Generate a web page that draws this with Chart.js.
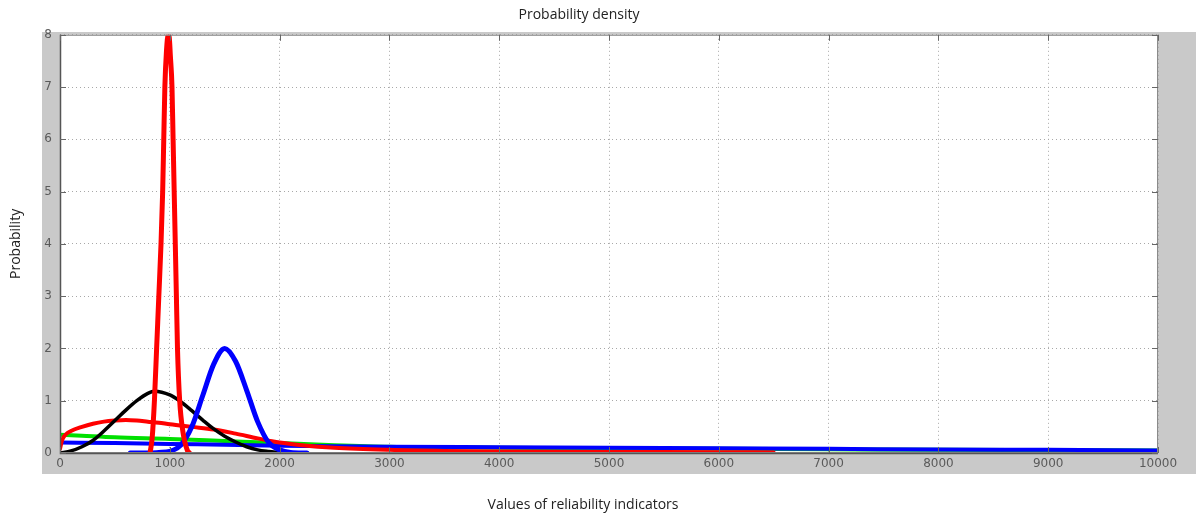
<!DOCTYPE html>
<html>
<head>
<meta charset="utf-8">
<script src="https://cdn.jsdelivr.net/npm/chart.js@4.4.1/dist/chart.umd.min.js"></script>
<style>
  html, body { margin: 0; padding: 0; background: #ffffff; }
  #wrap { width: 1196px; height: 515px; position: relative; }
</style>
</head>
<body>
<div id="wrap"><canvas id="c" width="1196" height="515"></canvas></div>
<script>
// Axis ticks
const xTicks = [0, 1000, 2000, 3000, 4000, 5000, 6000, 7000, 8000, 9000, 10000];
const yTicks = [0, 1, 2, 3, 4, 5, 6, 7, 8];

// Narrow red density (tall peak near 1000)
const peakX = [820, 840, 860, 880, 900, 920, 935, 945, 955, 970, 985, 995, 1005, 1020, 1030, 1040, 1050, 1060, 1070, 1090, 1120, 1160, 1180];
const peakY = [0, 0.3, 1.0, 2.0, 3.0, 4.0, 5.0, 6.0, 7.0, 7.7, 8.0, 7.95, 7.6, 7.0, 6.0, 5.0, 4.0, 3.0, 2.0, 1.0, 0.4, 0.05, 0];

// Blue bell density (peak near 1500)
const bellX = [640, 800, 900, 1000, 1100, 1200, 1300, 1400, 1500, 1600, 1700, 1800, 1900, 2000, 2100, 2250];
const bellY = [0, 0, 0.01, 0.03, 0.15, 0.5, 1.1, 1.7, 2.0, 1.75, 1.2, 0.6, 0.2, 0.06, 0.01, 0];

// Black density
const blackX = [0, 100, 200, 300, 400, 500, 600, 700, 800, 860, 1000, 1100, 1200, 1300, 1400, 1500, 1600, 1700, 1800, 1900, 2000];
const blackY = [0, 0.04, 0.12, 0.24, 0.42, 0.62, 0.82, 1.0, 1.14, 1.18, 1.11, 0.98, 0.81, 0.63, 0.46, 0.32, 0.21, 0.12, 0.06, 0.03, 0.01];

// Broad red density
const wideX = [0, 20, 50, 100, 200, 300, 400, 500, 600, 700, 800, 900, 1000, 1200, 1400, 1600, 1800, 2000, 2200, 2500, 3000, 3500, 4000, 5000, 6000, 6500];
const wideY = [0.08, 0.25, 0.35, 0.42, 0.5, 0.56, 0.6, 0.62, 0.63, 0.62, 0.6, 0.58, 0.55, 0.5, 0.45, 0.37, 0.28, 0.2, 0.15, 0.1, 0.06, 0.04, 0.03, 0.02, 0.015, 0.01];

// Flat blue density
const flatX = [0, 500, 1000, 1500, 2000, 3000, 4000, 5000, 6000, 7000, 8000, 9000, 10000];
const flatY = [0.2, 0.19, 0.17, 0.16, 0.14, 0.12, 0.11, 0.1, 0.09, 0.08, 0.065, 0.06, 0.05];

// Green density
const greenX = [0, 200, 500, 1000, 1500, 2000, 2500, 3000, 4000, 5000, 6000, 7000, 8000, 9000, 10000];
const greenY = [0.35, 0.33, 0.3, 0.27, 0.23, 0.19, 0.15, 0.12, 0.1, 0.09, 0.08, 0.07, 0.06, 0.055, 0.05];

const zip = (xs, ys) => xs.map((x, i) => ({ x: x, y: ys[i] }));

function line(xs, ys, color, width) {
  return {
    data: zip(xs, ys),
    borderColor: color,
    backgroundColor: color,
    borderWidth: width,
    pointRadius: 0,
    fill: false,
    cubicInterpolationMode: 'monotone',
    borderCapStyle: 'round',
    borderJoinStyle: 'round'
  };
}

// Gray figure background, white axes area, box and inward ticks
const figurePlugin = {
  id: 'figure',
  beforeDraw(chart) {
    const ctx = chart.ctx;
    const a = chart.chartArea;
    ctx.save();
    ctx.fillStyle = '#ffffff';
    ctx.fillRect(0, 0, chart.width, chart.height);
    ctx.fillStyle = '#c9c9c9';
    ctx.fillRect(42, 32, chart.width - 42, 442);
    ctx.fillStyle = '#ffffff';
    ctx.fillRect(a.left, a.top, a.right - a.left, a.bottom - a.top);
    ctx.restore();
  },
  afterDatasetsDraw(chart) {
    const ctx = chart.ctx;
    const a = chart.chartArea;
    const xs = chart.scales.x, ys = chart.scales.y;
    ctx.save();
    ctx.strokeStyle = '#8a8a8a';
    ctx.lineWidth = 1;
    ctx.strokeRect(a.left + 0.5, a.top + 0.5, a.right - a.left - 1, a.bottom - a.top - 1);
    ctx.strokeStyle = '#555555';
    ctx.lineWidth = 1.5;
    ctx.beginPath();
    ctx.moveTo(a.left + 0.5, a.top);
    ctx.lineTo(a.left + 0.5, a.bottom + 0.5);
    ctx.lineTo(a.right, a.bottom + 0.5);
    ctx.stroke();
    ctx.lineWidth = 1;
    ctx.strokeStyle = '#666666';
    ctx.beginPath();
    yTicks.forEach(v => {
      const py = Math.round(ys.getPixelForValue(v)) + 0.5;
      ctx.moveTo(a.left, py); ctx.lineTo(a.left + 6, py);
      ctx.moveTo(a.right, py); ctx.lineTo(a.right - 6, py);
    });
    xTicks.forEach(v => {
      const px = Math.round(xs.getPixelForValue(v)) + 0.5;
      ctx.moveTo(px, a.bottom); ctx.lineTo(px, a.bottom - 6);
      ctx.moveTo(px, a.top); ctx.lineTo(px, a.top + 6);
    });
    ctx.stroke();
    // horizontal axis caption
    ctx.fillStyle = '#222222';
    ctx.font = '14px "Open Sans"';
    ctx.textAlign = 'center';
    ctx.textBaseline = 'middle';
    ctx.fillText('Values of reliability indicators', 583, 505);
    ctx.restore();
  }
};

new Chart(document.getElementById('c'), {
  type: 'line',
  data: {
    datasets: [
      line(peakX, peakY, '#ff0000', 5),
      line(bellX, bellY, '#0000ff', 5),
      line(blackX, blackY, '#000000', 3.5),
      line(wideX, wideY, '#ff0000', 4),
      line(flatX, flatY, '#0000ff', 4),
      line(greenX, greenY, '#00e000', 4)
    ]
  },
  options: {
    responsive: false,
    animation: false,
    layout: { padding: { left: 0, right: 38, top: 0, bottom: 0 } },
    plugins: {
      legend: { display: false },
      tooltip: { enabled: false },
      title: {
        display: true,
        text: 'Probability density',
        color: '#222222',
        font: { family: 'Open Sans', size: 14, weight: 'normal' },
        padding: { top: 7, bottom: 11 }
      }
    },
    scales: {
      x: {
        type: 'linear',
        min: 0,
        max: 10000,
        afterBuildTicks(scale) { scale.ticks = xTicks.map(v => ({ value: v })); },
        afterFit(scale) { scale.height = 62; },
        ticks: {
          color: '#5a5a5a',
          font: { family: 'DejaVu Sans', size: 12 },
          padding: 4,
          maxRotation: 0,
          autoSkip: false,
          callback: v => String(v)
        },
        grid: { color: '#a8a8a8', lineWidth: 1, drawTicks: false },
        border: { display: false, dash: [1, 3] },
        title: { display: false }
      },
      y: {
        type: 'linear',
        min: 0,
        max: 8,
        afterBuildTicks(scale) { scale.ticks = yTicks.map(v => ({ value: v })); },
        afterFit(scale) { scale.width = 60; },
        ticks: {
          color: '#5a5a5a',
          font: { family: 'DejaVu Sans', size: 12 },
          padding: 8,
          callback: v => String(v)
        },
        grid: { color: '#a8a8a8', lineWidth: 1, drawTicks: false },
        border: { display: false, dash: [1, 3] },
        title: {
          display: true,
          text: 'Probability',
          color: '#222222',
          font: { family: 'Open Sans', size: 14 },
          padding: { top: 8, bottom: 0 }
        }
      }
    }
  },
  plugins: [figurePlugin]
});
</script>
</body>
</html>
